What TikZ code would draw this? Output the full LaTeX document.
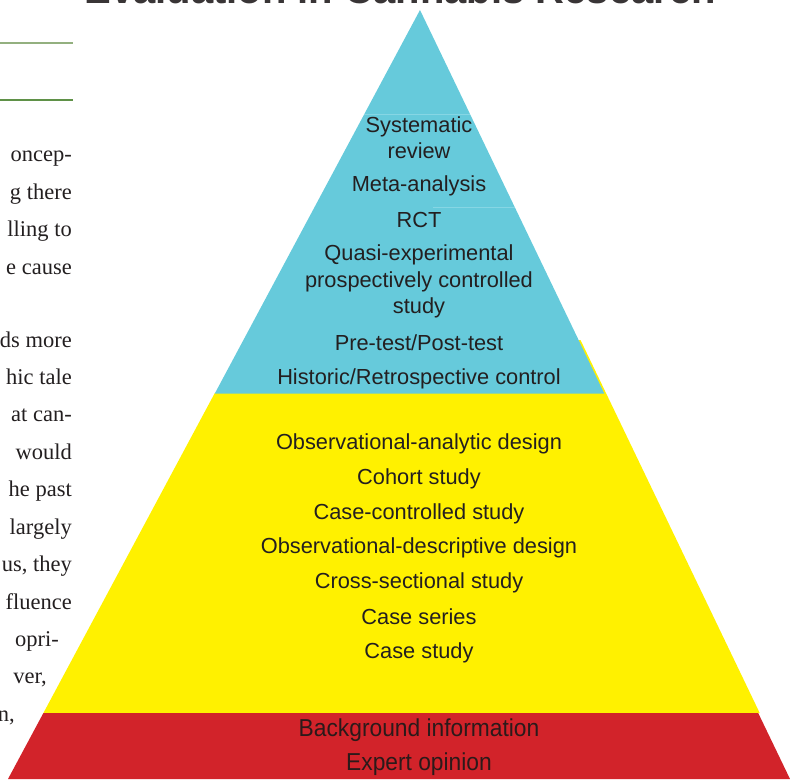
\documentclass[tikz,border=0pt]{standalone}
\usepackage{fontspec}
\setmainfont{Liberation Serif}
\newfontfamily\levelfont{Liberation Sans}
\newfontfamily\narrowfont[FakeStretch=0.93]{Liberation Sans}
\newfontfamily\headfont{Liberation Sans}

\definecolor{ink}{HTML}{231F20}
\definecolor{tierblue}{HTML}{66CADB}
\definecolor{tierblueline}{HTML}{86D6E4}
\definecolor{tieryellow}{HTML}{FFF100}
\definecolor{tierred}{HTML}{D2232A}
\definecolor{redink}{HTML}{2B1A1A}
\definecolor{rulelight}{HTML}{93B07F}
\definecolor{ruledark}{HTML}{5F9147}

\tikzset{
  level/.style={font=\levelfont\fontsize{21.8}{26.5}\selectfont, text=ink,
    align=center, inner sep=0pt},
  baselevel/.style={font=\narrowfont\fontsize{24.5}{28}\selectfont, text=redink,
    align=center, inner sep=0pt},
  bodyline/.style={font=\fontsize{22.5}{37}\selectfont, text=ink,
    inner sep=0pt, anchor=base east},
  headline/.style={font=\headfont\bfseries\fontsize{40}{44}\selectfont,
    text=ink!90, inner sep=0pt, anchor=base east},
}

\begin{document}
\begin{tikzpicture}[x=1pt, y=-1pt]
\useasboundingbox (0,0) rectangle (790,781);

% running head, cut by the top of the page
\node[headline] (head) at (716,3.5) {Evaluation in Cannabis Research};

% section rules
\draw[rulelight, line width=1.4pt] (0,43) -- (73,43);
\draw[ruledark, line width=1.4pt] (0,100) -- (73,100);

% body text column, cropped on the left
\node[bodyline] (t1)  at (72,162) {oncep-};
\node[bodyline] (t2)  at (72,199) {g there};
\node[bodyline] (t3)  at (72,236) {lling to};
\node[bodyline] (t4)  at (72,274) {e cause};
\node[bodyline] (t5)  at (72,347) {ds more};
\node[bodyline] (t6)  at (72,384) {hic tale};
\node[bodyline] (t7)  at (72,421) {at can-};
\node[bodyline] (t8)  at (72,459) {would};
\node[bodyline] (t9)  at (72,496) {he past};
\node[bodyline] (t10) at (72,534) {largely};
\node[bodyline] (t11) at (72,571) {us, they};
\node[bodyline] (t12) at (72,609) {fluence};
\node[bodyline] (t13) at (59,646) {opri-};
\node[bodyline] (t14) at (47,683) {ver,};
\node[bodyline] (t15) at (15,721) {n,};

% evidence pyramid: observational tier (slightly proud of the top tier)
\fill[tieryellow] (230,393) -- (580.5,340) -- (759.7,713) -- (43.4,713)
  -- (214.8,393) -- cycle;
% experimental tier
\fill[tierblue] (420,10) -- (604.3,393.5) -- (214.8,393.5) -- cycle;
\draw[tierblueline, line width=0.8pt] (364,114) -- (470,114);
\draw[tierblueline, line width=0.8pt] (433,207) -- (515,207);
% base tier
\fill[tierred] (43.4,713) -- (758.2,713) -- (790,779) -- (8,779) -- cycle;

% experimental designs
\node[level] (sr)    at (419,137.5) {Systematic\\review};
\node[level] (meta)  at (419,186) {Meta-analysis};
\node[level] (rct)   at (419,219.5) {RCT};
\node[level] (quasi) at (419,281.5) {Quasi-experimental\\prospectively controlled\\study};
\node[level] (prepost) at (419,343) {Pre-test/Post-test};
\node[level] (hist)  at (419,379) {Historic/Retrospective control};

% observational designs
\node[level] (obsa)   at (419,444) {Observational-analytic design};
\node[level] (cohort) at (419,479) {Cohort study};
\node[level] (cc)     at (419,514) {Case-controlled study};
\node[level] (obsd)   at (419,548) {Observational-descriptive design};
\node[level] (cross)  at (419,583) {Cross-sectional study};
\node[level] (series) at (419,617) {Case series};
\node[level] (cstudy) at (419,653) {Case study};

% base evidence
\node[baselevel] (bg)     at (419,730) {Background information};
\node[baselevel] (expert) at (419,764) {Expert opinion};
\end{tikzpicture}
\end{document}
